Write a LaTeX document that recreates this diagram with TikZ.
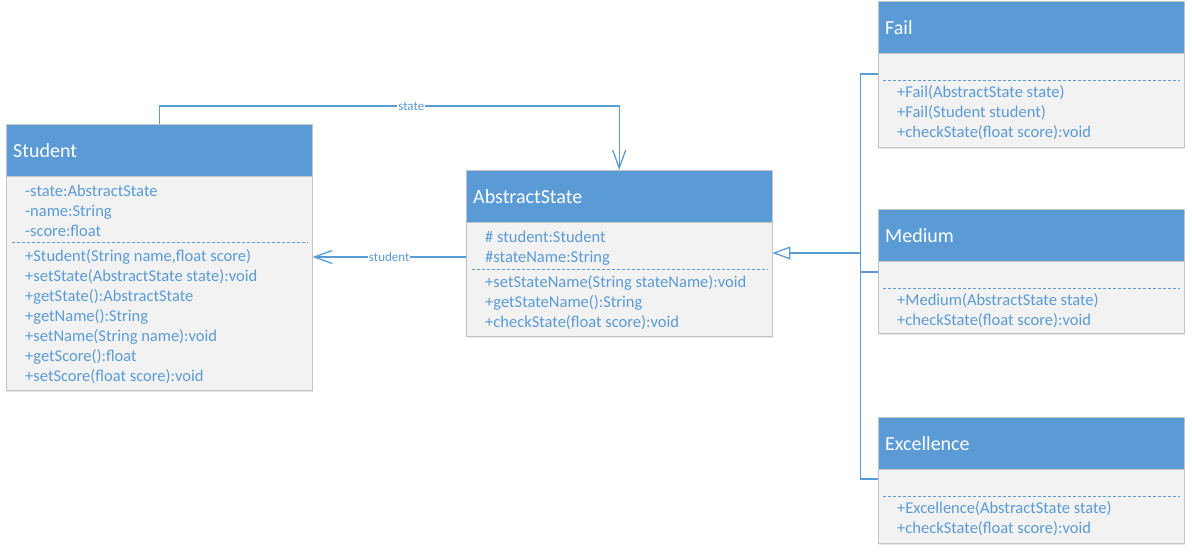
\documentclass[tikz,border=0pt]{standalone}
\usepackage{fontspec}
\setmainfont{Carlito}
\usetikzlibrary{arrows.meta,shadows}
\definecolor{umlblue}{HTML}{5B9BD5}
\definecolor{umlbody}{HTML}{F2F2F2}
\definecolor{umledge}{HTML}{C4C4C4}
\begin{document}
\begin{tikzpicture}[x=1pt,y=-1pt,
  head/.style={draw=umledge, fill=umlblue, text=white, anchor=north west,
    minimum width=306pt, minimum height=52pt, text width=292pt, align=left,
    inner xsep=7pt, inner ysep=0pt, font=\fontsize{20}{22}\selectfont},
  body/.style={draw=umledge, fill=umlbody, anchor=north west,
    minimum width=306pt, inner sep=0pt,
    drop shadow={shadow xshift=1pt, shadow yshift=-2pt, opacity=0.18}},
  member/.style={text=umlblue, anchor=base west, inner sep=0pt,
    font=\fontsize{16.5}{18}\selectfont},
  sep/.style={draw=umlblue, line width=0.9pt, dash pattern=on 3pt off 2pt},
  link/.style={draw=umlblue, line width=1.3pt},
  assoc/.style={link, -{Straight Barb[length=18pt, width=13pt, line width=1.3pt]}},
  inherit/.style={link, -{Triangle[open, fill=white, length=18pt, width=13pt, line width=1.3pt]}},
  lbl/.style={fill=white, text=umlblue, inner xsep=1pt, inner ysep=0pt,
    font=\fontsize{13}{14}\selectfont}
]
\useasboundingbox (0,0) rectangle (1192,552);

% ---------- Student ----------
\node[body, minimum height=214pt] (stuB) at (6,176) {};
\node[head] (stuH) at (6,124) {Student};
\node[member] (s1) at (25,196) {-state:AbstractState};
\node[member] (s2) at (25,216) {-name:String};
\node[member] (s3) at (25,236) {-score:float};
\draw[sep] (12,242) -- (308,242);
\node[member] (s4) at (25,261) {+Student(String name,float score)};
\node[member] (s5) at (25,281) {+setState(AbstractState state):void};
\node[member] (s6) at (25,301) {+getState():AbstractState};
\node[member] (s7) at (25,321) {+getName():String};
\node[member] (s8) at (25,341) {+setName(String name):void};
\node[member] (s9) at (25,361) {+getScore():float};
\node[member] (s10) at (25,381) {+setScore(float score):void};

% ---------- AbstractState ----------
\node[body, minimum height=114pt] (absB) at (466,222) {};
\node[head] (absH) at (466,170) {AbstractState};
\node[member] (a1) at (485,242) {\# student:Student};
\node[member] (a2) at (485,262) {\#stateName:String};
\draw[sep] (472,269) -- (768,269);
\node[member] (a3) at (485,287) {+setStateName(String stateName):void};
\node[member] (a4) at (485,307) {+getStateName():String};
\node[member] (a5) at (485,327) {+checkState(float score):void};

% ---------- Fail ----------
\node[body, minimum height=94pt] (failB) at (878,53) {};
\node[head] (failH) at (878,1) {Fail};
\draw[sep] (883,80) -- (1180,80);
\node[member] (f1) at (897,97) {+Fail(AbstractState state)};
\node[member] (f2) at (897,117) {+Fail(Student student)};
\node[member] (f3) at (897,137) {+checkState(float score):void};

% ---------- Medium ----------
\node[body, minimum height=72pt] (medB) at (878,261) {};
\node[head] (medH) at (878,209) {Medium};
\draw[sep] (883,288) -- (1180,288);
\node[member] (m1) at (897,305) {+Medium(AbstractState state)};
\node[member] (m2) at (897,325) {+checkState(float score):void};

% ---------- Excellence ----------
\node[body, minimum height=74pt] (excB) at (878,469) {};
\node[head] (excH) at (878,417) {Excellence};
\draw[sep] (883,496) -- (1180,496);
\node[member] (e1) at (897,513) {+Excellence(AbstractState state)};
\node[member] (e2) at (897,533) {+checkState(float score):void};

% ---------- associations ----------
\draw[assoc] (stuH.north) -- ++(0,-18) -| node[lbl, pos=0.274] (stateLbl) {state} (absH.north);
\coordinate (sl) at (0,257);
\draw[assoc] (absB.west |- sl) -- node[lbl] (studentLbl) {student} (stuB.east |- sl);

% ---------- generalisation ----------
\coordinate (bus) at (860.5,253);
\coordinate (jF) at (860.5,74);
\coordinate (jM) at (860.5,272);
\coordinate (jE) at (860.5,479);
\draw[link] (failB.west |- jF) -- (jF) -- (jE) -- (excB.west |- jE);
\draw[link] (jM) -- (medB.west |- jM);
\draw[inherit] (bus) -- (bus -| absB.east);
\end{tikzpicture}
\end{document}
